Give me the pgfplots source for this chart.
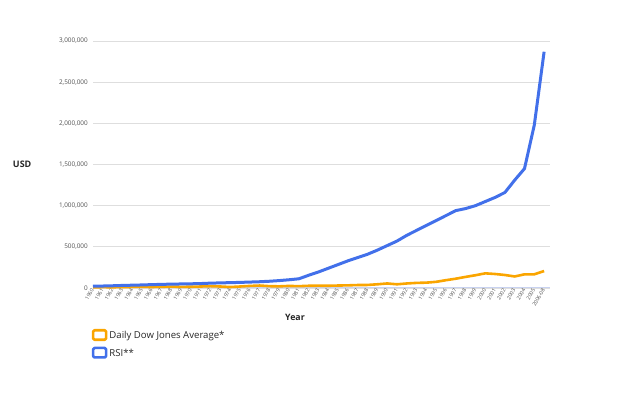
\documentclass[border=0pt]{standalone}
\usepackage{pgfplots}
\pgfplotsset{compat=1.18}
\usepackage{pgfplotstable}
\usepackage{fontspec}
\setmainfont{Open Sans}
\definecolor{rsiblue}{RGB}{66,112,234}
\definecolor{dowor}{RGB}{250,165,0}
\definecolor{gridc}{RGB}{222,222,222}
\definecolor{basec}{RGB}{200,210,240}
\definecolor{tickc}{RGB}{80,80,80}
\pgfplotstableread{
idx dow rsi
0 8000 22000
1 10000 24000
2 9000 27000
3 11000 31000
4 13000 34000
5 14000 37000
6 12000 41000
7 15000 44000
8 17000 47000
9 14000 49000
10 15000 51000
11 18000 54000
12 22000 59000
13 18000 62000
14 12000 65000
15 18000 68000
16 25000 72000
17 30000 76000
18 22000 82000
19 20000 90000
20 25000 100000
21 22000 112000
22 27000 155000
23 28000 195000
24 27000 240000
25 30000 285000
26 32000 330000
27 36000 370000
28 37000 410000
29 45000 460000
30 55000 515000
31 45000 570000
32 55000 640000
33 62000 700000
34 65000 760000
35 75000 820000
36 95000 880000
37 113000 940000
38 135000 965000
39 155000 1000000
40 178000 1050000
41 170000 1100000
42 158000 1160000
43 140000 1310000
44 166000 1450000
45 166000 1980000
46 206000 2870000
}\datatable
\begin{document}
\begin{tikzpicture}
\path[use as bounding box] (0,0) rectangle (627pt,395pt);
\begin{axis}[
  at={(93pt,107pt)}, anchor=south west,
  scale only axis, width=457pt, height=247pt,
  xmin=0, xmax=46.6, ymin=0, ymax=3000000,
  axis line style={draw=none},
  clip=false,
  xtick=data,
  xticklabels={1960,1961,1962,1963,1964,1965,1966,1967,1968,1969,1970,1971,1972,1973,1974,1975,1976,1977,1978,1979,1980,1981,1982,1983,1984,1985,1986,1987,1988,1989,1990,1991,1992,1993,1994,1995,1996,1997,1998,1999,2000,2001,2002,2003,2004,2005,2006-08},
  xticklabel style={rotate=60, anchor=east, font=\fontsize{5.2}{5.5}\selectfont, text=tickc, inner sep=1pt},
  ytick={0,500000,1000000,1500000,2000000,2500000,3000000},
  yticklabel style={font=\fontsize{6.4}{7}\selectfont, text=tickc, inner sep=1pt, xshift=-4pt},
  scaled y ticks=false,
  /pgf/number format/assume math mode=true,
  /pgf/number format/.cd, 1000 sep={,}, fixed, precision=0, /pgfplots/.cd,
  ymajorgrids, grid style={gridc, line width=0.8pt},
  major tick length=0pt,
  tick style={draw=none},
  xlabel={Year}, xlabel style={at={(axis description cs:0.442,-0.12)}, anchor=center, font=\fontsize{8.8}{10}\selectfont\bfseries, text=black!85},
  ylabel={USD}, ylabel style={rotate=-90, at={(axis description cs:-0.155,0.5)}, anchor=center, font=\fontsize{9}{10}\selectfont\bfseries, text=black!85},
  legend style={at={(axis description cs:-0.003,-0.165)}, anchor=north west, draw=none, fill=none, font=\fontsize{9.6}{10}\selectfont, text=black!85, row sep=4.5pt, inner sep=0pt},
  legend cell align=left,
  legend image code/.code={\draw[#1, line width=2.6pt, fill=white, rounded corners=1.4pt] (0pt,-4pt) rectangle (13pt,5.5pt);},
]
\draw[basec, line width=1pt] (axis cs:0,0) -- (axis cs:46.6,0);
\addplot[dowor, line width=2.6pt, line join=round] table[x=idx, y=dow] {\datatable};
\addlegendentry{Daily Dow Jones Average*}
\addplot[rsiblue, line width=3pt, line join=round] table[x=idx, y=rsi] {\datatable};
\addlegendentry{RSI**}
\end{axis}
\end{tikzpicture}
\end{document}
